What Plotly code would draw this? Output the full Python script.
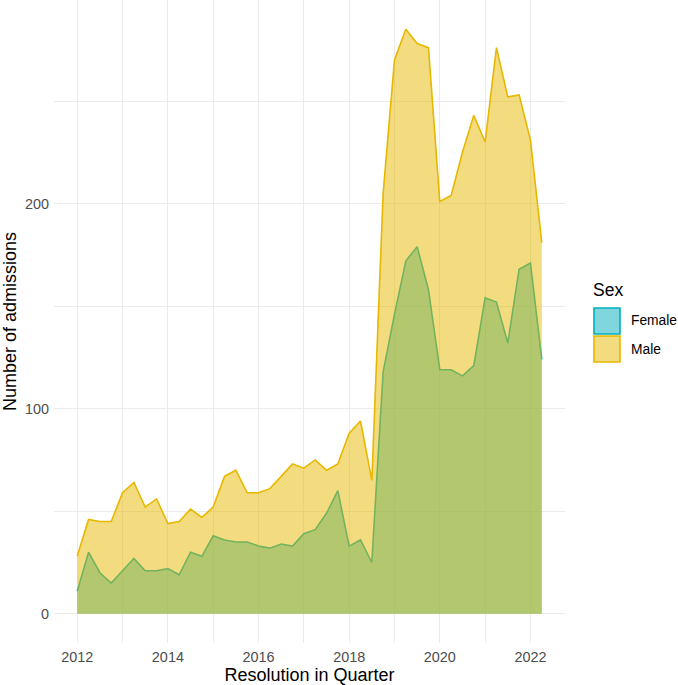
import plotly.graph_objects as go

# ---- data ----
quarters = [f"{y} Q{q}" for y in range(2012, 2023) for q in range(1, 5)][:42]
female = [11, 30, 20, 15, 21, 27, 21, 21, 22, 19, 30, 28, 38, 36, 35, 35, 33, 32, 34, 33,
          39, 41, 49, 60, 33, 36, 25, 118, 146, 172, 179, 158, 119, 119, 116, 121, 154, 152,
          132, 168, 171, 124]
male = [28, 46, 45, 45, 59, 64, 52, 56, 44, 45, 51, 47, 52, 67, 70, 59, 59, 61, 67, 73,
        71, 75, 70, 73, 88, 94, 65, 205, 270, 285, 278, 276, 201, 204, 225, 243, 230, 276,
        252, 253, 231, 181]
series = ["Female", "Male"]
x_ticks = [2012, 2014, 2016, 2018, 2020, 2022]
y_ticks = [0, 100, 200]

x = [int(s[:4]) + (int(s[-1]) - 1) / 4 for s in quarters]

line_cols = {"Female": "#00AFBB", "Male": "#E7B800"}
fill_cols = {"Female": "rgba(0,175,187,0.5)", "Male": "rgba(231,184,0,0.5)"}
vals = {"Female": female, "Male": male}

W, H = 678, 685
ML, MR, MT, MB = 54, 113, 0, 42
PW, PH = W - ML - MR, H - MT - MB

fig = go.Figure()
for s in series:
    fig.add_trace(go.Scatter(
        x=x, y=vals[s], mode="lines", fill="tozeroy", name=s,
        fillcolor=fill_cols[s], line=dict(color=line_cols[s], width=1.6),
        showlegend=False, hoverinfo="x+y+name"))

def px2x(px):
    return (px - ML) / PW

def px2y(py):
    return (H - MB - py) / PH

font = "Liberation Sans, Arial, Helvetica, sans-serif"
shapes = []
annotations = []
annotations.append(dict(x=px2x(591), y=px2y(290), xref="paper", yref="paper",
                        text="Sex", showarrow=False, xanchor="left", yanchor="middle",
                        font=dict(size=17.5, color="black", family=font)))
key_top = 308
for i, s in enumerate(series):
    y0 = key_top + i * 28
    shapes.append(dict(type="rect", xref="paper", yref="paper",
                       x0=px2x(594), x1=px2x(620), y0=px2y(y0 + 26), y1=px2y(y0),
                       fillcolor=fill_cols[s], line=dict(color=line_cols[s], width=1.6)))
    annotations.append(dict(x=px2x(629), y=px2y(y0 + 13), xref="paper", yref="paper",
                            text=s, showarrow=False, xanchor="left", yanchor="middle",
                            font=dict(size=13.8, color="black", family=font)))

grid = "#EBEBEB"
fig.update_layout(
    width=W, height=H,
    margin=dict(l=ML, r=MR, t=MT, b=MB, pad=0, autoexpand=False),
    paper_bgcolor="white", plot_bgcolor="white",
    font=dict(family=font, color="black"),
    shapes=shapes, annotations=annotations,
    showlegend=False,
    xaxis=dict(range=[2011.4875, 2022.7625], tickvals=x_ticks, ticktext=[str(t) for t in x_ticks],
               showgrid=True, gridcolor=grid, gridwidth=1.4, zeroline=False, showline=False,
               automargin=False,
               ticks="", tickfont=dict(size=14.4, color="#4D4D4D"), ticklabelstandoff=4,
               minor=dict(tickvals=[2013, 2015, 2017, 2019, 2021], showgrid=True,
                          gridcolor=grid, gridwidth=0.8),
               title=dict(text="Resolution in Quarter", font=dict(size=18, color="black"),
                          standoff=5)),
    yaxis=dict(range=[-14.25, 299.25], tickvals=y_ticks, ticktext=[str(t) for t in y_ticks],
               showgrid=True, gridcolor=grid, gridwidth=1.4, zeroline=False, showline=False,
               automargin=False,
               ticks="", tickfont=dict(size=14.4, color="#4D4D4D"), ticklabelstandoff=4,
               minor=dict(tickvals=[50, 150, 250], showgrid=True, gridcolor=grid, gridwidth=0.8),
               title=dict(text="Number of admissions", font=dict(size=18, color="black"),
                          standoff=6)),
)

fig.write_html("out.html", post_script="document.body.style.margin='0';",
               config={"displayModeBar": False})
